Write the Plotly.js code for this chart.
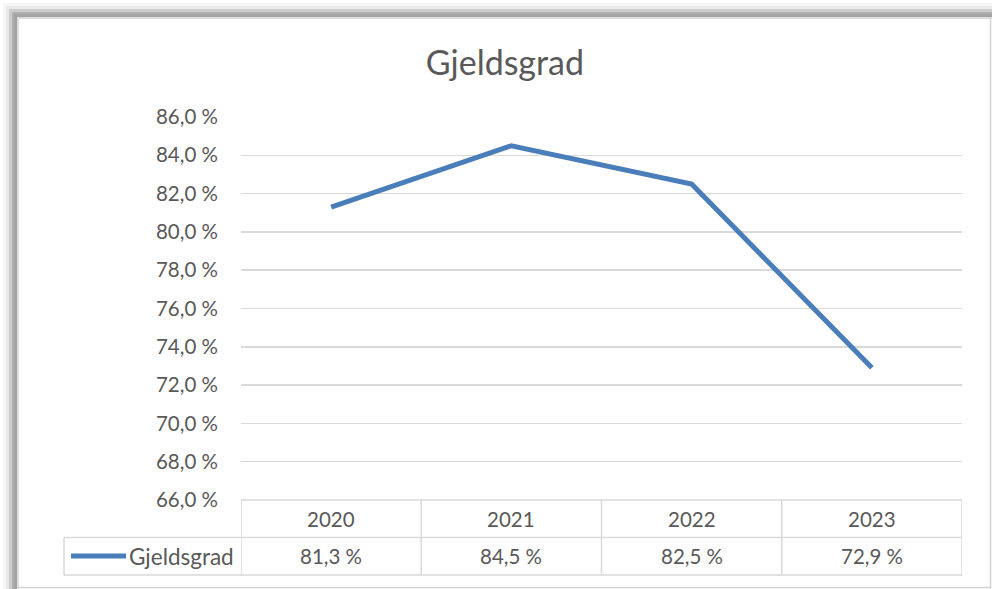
<!DOCTYPE html>
<html>
<head>
<meta charset="utf-8">
<script src="https://cdn.plot.ly/plotly-3.0.1.min.js"></script>
<style>
html,body{margin:0;padding:0;background:#fff;}
#chart{width:992px;height:589px;}
</style>
</head>
<body>
<div id="chart"></div>
<script>
// ---- data ----
const years = ['2020', '2021', '2022', '2023'];
const gjeldsgrad = [81.3, 84.5, 82.5, 72.9];
const seriesName = 'Gjeldsgrad';
const chartTitle = 'Gjeldsgrad';
const yTicks = [66, 68, 70, 72, 74, 76, 78, 80, 82, 84, 86];

// ---- layout geometry (pixels) ----
const W = 992, H = 589;
const M = {l: 241, r: 30, t: 117, b: 89};
const PW = W - M.l - M.r, PH = H - M.t - M.b;
const px = x => (x - M.l) / PW;           // pixel x -> paper
const py = y => (H - M.b - y) / PH;       // pixel y -> paper

const FONT = 'Lato, "Open Sans", sans-serif';
const TXT = '#595959';
const GRID = '#d9d9d9';
const BLUE = '#4a7ebb';
const FS = 20.5;

const fmt = v => v.toFixed(1).replace('.', ',') + ' %';

const shapes = [];
const annotations = [];

// frame (picture border)
const frameBands = [
  [3, '#f6f6f6'], [6, '#e9e9e9'], [9, '#cdcdcd'], [12, '#b0b0b0'], [14, '#a3a3a3'], [17, '#dcdcdc']
];
frameBands.forEach((b, i) => {
  const a = b[0], next = i < frameBands.length - 1 ? frameBands[i + 1][0] : 19;
  shapes.push({type: 'rect', xref: 'paper', yref: 'paper', x0: px(a), x1: px(W), y0: py(a), y1: py(next),
    fillcolor: b[1], line: {width: 0}, layer: 'below'});
  shapes.push({type: 'rect', xref: 'paper', yref: 'paper', x0: px(a), x1: px(next), y0: py(a), y1: py(H),
    fillcolor: b[1], line: {width: 0}, layer: 'below'});
});
shapes.push({type: 'line', xref: 'paper', yref: 'paper', x0: px(990.5), x1: px(990.5), y0: py(19), y1: py(H), line: {color: '#d4d4d4', width: 1.5}});
shapes.push({type: 'line', xref: 'paper', yref: 'paper', x0: px(19), x1: px(991), y0: py(587.5), y1: py(587.5), line: {color: '#d4d4d4', width: 1.5}});

// data table below the plot
const rowTop = py(500), rowMid = py(537.5), rowBot = py(575);
const legendLeft = px(64);
shapes.push({type: 'line', xref: 'x', yref: 'paper', x0: -0.5, x1: years.length - 0.5, y0: rowTop, y1: rowTop, line: {color: GRID, width: 1.5}});
shapes.push({type: 'line', xref: 'paper', yref: 'paper', x0: legendLeft, x1: 1, y0: rowMid, y1: rowMid, line: {color: GRID, width: 1.5}});
shapes.push({type: 'line', xref: 'paper', yref: 'paper', x0: legendLeft, x1: 1, y0: rowBot, y1: rowBot, line: {color: GRID, width: 1.5}});
shapes.push({type: 'line', xref: 'paper', yref: 'paper', x0: legendLeft, x1: legendLeft, y0: rowMid, y1: rowBot, line: {color: GRID, width: 1.5}});
for (let i = 0; i <= years.length; i++) {
  shapes.push({type: 'line', xref: 'x', yref: 'paper', x0: i - 0.5, x1: i - 0.5, y0: rowTop, y1: rowBot, line: {color: GRID, width: 1.5}});
}
// legend key in table
shapes.push({type: 'line', xref: 'paper', yref: 'paper', x0: px(71), x1: px(126), y0: py(556), y1: py(556), line: {color: BLUE, width: 5}});
annotations.push({xref: 'paper', yref: 'paper', x: px(181), y: py(556), text: seriesName, showarrow: false,
  xanchor: 'center', yanchor: 'middle', font: {family: FONT, size: 22.5, color: TXT}});

years.forEach((yr, i) => {
  annotations.push({xref: 'x', yref: 'paper', x: i, y: py(519), text: yr, showarrow: false,
    xanchor: 'center', yanchor: 'middle', font: {family: FONT, size: FS, color: TXT}});
  annotations.push({xref: 'x', yref: 'paper', x: i, y: py(556), text: fmt(gjeldsgrad[i]), showarrow: false,
    xanchor: 'center', yanchor: 'middle', font: {family: FONT, size: FS, color: TXT}});
});

const trace = {
  type: 'scatter', mode: 'lines', x: years.map((_, i) => i), y: gjeldsgrad, name: seriesName,
  line: {color: BLUE, width: 5}, hoverinfo: 'skip'
};

const layout = {
  width: W, height: H,
  margin: M,
  paper_bgcolor: '#ffffff', plot_bgcolor: '#ffffff',
  showlegend: false,
  separators: ', ',
  title: {text: chartTitle, font: {family: FONT, size: 34, color: TXT}, x: 0.509, xanchor: 'center', y: 1 - 63 / H, yanchor: 'middle'},
  xaxis: {range: [-0.5, years.length - 0.5], showgrid: false, zeroline: false, showticklabels: false, ticks: '', showline: false, fixedrange: true},
  yaxis: {range: [66, 86], tickvals: yTicks, ticktext: yTicks.map(fmt), showgrid: true, gridcolor: GRID, gridwidth: 1.5,
    zeroline: false, showline: false, ticks: '', ticklabelstandoff: 22,
    tickfont: {family: FONT, size: FS, color: TXT}, fixedrange: true},
  shapes: shapes,
  annotations: annotations
};

Plotly.newPlot('chart', [trace], layout, {displayModeBar: false, staticPlot: true});
</script>
</body>
</html>
